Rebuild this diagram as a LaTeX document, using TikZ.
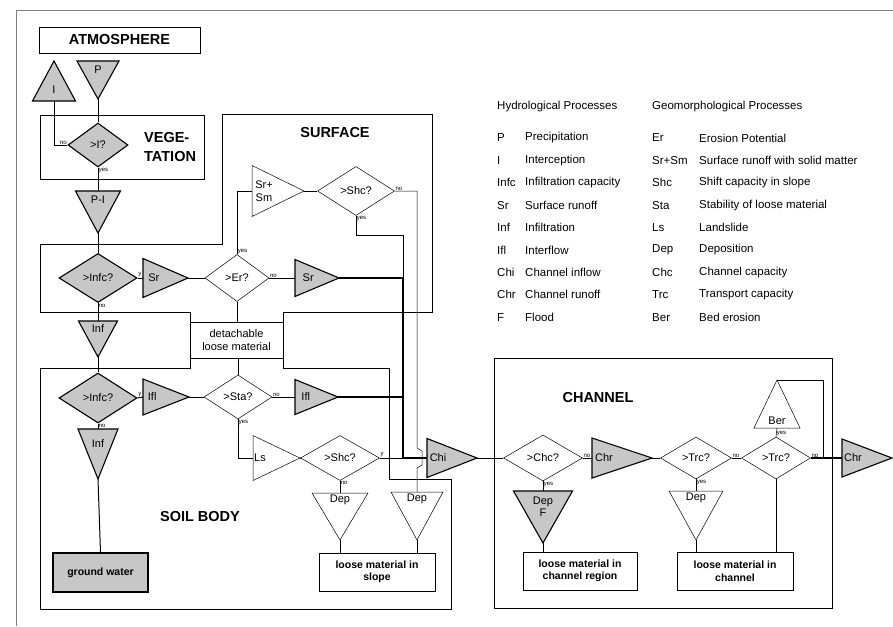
\documentclass[tikz,border=0pt]{standalone}
\usepackage{fontspec}
\setmainfont{Liberation Sans}
\usetikzlibrary{shapes.geometric,calc}

\begin{document}
\begin{tikzpicture}[x=1pt, y=-1pt,
	every node/.style={font=\fontsize{11}{12.5}\selectfont, inner sep=1pt},
	hyd/.style={draw, line width=1.1pt, fill=black!22},
	geo/.style={draw, line width=0.5pt, fill=white},
	ask/.style={diamond, inner sep=0pt},
	flow/.style={line width=1pt},
	trunk/.style={line width=1.7pt},
	link/.style={line width=0.5pt},
	region/.style={line width=0.9pt},
	title/.style={font=\fontsize{14.5}{19}\selectfont\bfseries},
	cue/.style={font=\fontsize{6}{7}\selectfont, inner sep=0.6pt},
	store/.style={draw, line width=0.6pt, align=center, font=\fontsize{10.5}{12.5}\selectfont\bfseries}]
	\useasboundingbox (0,0) rectangle (893,626);
	\draw[gray, line width=0.6pt] (16,626) -- (16,10) -- (893,10);

	% regions
	\draw[region] (40,244) -- (222,244) -- (222,114) -- (432,114) -- (432,312) -- (283,312) -- (283,322) -- (190,322) -- (190,312) -- (40,312) -- cycle;
	\draw[region] (40,368) -- (190,368) -- (190,358) -- (283,358) -- (283,368) -- (389,368) -- (389,479) -- (451,479) -- (451,609) -- (40,609) -- cycle;
	\draw[region] (494,358) rectangle (832,608);
	\node[draw, region, title, minimum width=161pt, minimum height=26pt] (atmo) at (119.5,40) {ATMOSPHERE};
	\node[draw, region, minimum width=164pt, minimum height=64pt] (veg) at (122,147) {};
	\node[title, align=left, anchor=west] (vegT) at (143,147) {VEGE-\\TATION};
	\node[title] (surfT) at (335,133) {SURFACE};
	\node[title] (soilT) at (200,517) {SOIL BODY};
	\node[title] (chanT) at (598,398) {CHANNEL};
	\node[draw, region, align=center, minimum width=93pt, minimum height=36pt] (det) at (236.5,340) {detachable\\loose material};

	% stores
	\node[hyd, minimum width=95pt, minimum height=39pt, font=\fontsize{10.5}{12}\selectfont\bfseries] (gw) at (100.5,572.5) {ground water};
	\node[store, minimum width=116pt, minimum height=38pt] (slope) at (377,572) {loose material in\\slope};
	\node[store, minimum width=114pt, minimum height=38pt] (cregion) at (580,571) {loose material in\\channel region};
	\node[store, minimum width=116pt, minimum height=38pt] (cbed) at (735,571) {loose material in\\channel};

	% decisions
	\node[ask, hyd, minimum width=60pt, minimum height=44pt] (dI) at (98,145) {>I?};
	\node[ask, hyd, minimum width=78pt, minimum height=49pt] (dInfcS) at (98,278) {>Infc?};
	\node[ask, geo, minimum width=64pt, minimum height=47pt] (dEr) at (237,278) {>Er?};
	\node[ask, geo, minimum width=77pt, minimum height=49pt] (dShcS) at (356,191) {>Shc?};
	\node[ask, hyd, minimum width=78pt, minimum height=50pt] (dInfcB) at (98,398) {>Infc?};
	\node[ask, geo, minimum width=68pt, minimum height=44pt] (dSta) at (238,397) {>Sta?};
	\node[ask, geo, minimum width=79pt, minimum height=45pt] (dShcB) at (340,458) {>Shc?};
	\node[ask, geo, minimum width=79pt, minimum height=46pt] (dChc) at (543,458) {>Chc?};
	\node[ask, geo, minimum width=71pt, minimum height=42pt] (dTrcA) at (696,458) {>Trc?};
	\node[ask, geo, minimum width=69pt, minimum height=42pt] (dTrcB) at (776,458) {>Trc?};

	% processes: name/apex/base/half base/style/label place/label
	\foreach \n/\ax/\ay/\bx/\by/\hw/\sty/\f/\txt in {
		P/98/99/98/61/21/hyd/0.24/P, I/54/61/54/101/21.5/hyd/0.27/I,
		PI/98/233/98/191/22.5/hyd/0.2/P-I, SrA/188/278/143/278/19.5/hyd/0.24/Sr,
		SrB/339/278/295/278/18.5/hyd/0.3/Sr, InfS/98/357/98/321/19.5/hyd/0.2/Inf,
		IflA/189/397/143/397/18/hyd/0.2/Ifl, IflB/338/397/295/397/17.5/hyd/0.25/Ifl,
		InfB/98/479/98/429/20/hyd/0.3/Inf, Chi/477/458/427/458/19.5/hyd/0.22/Chi,
		ChrA/652/458/592/458/20/hyd/0.2/Chr, ChrB/892/458/842/458/19/hyd/0.22/Chr,
		DepF/543/543/543/491/29.5/hyd/0.3/{Dep\\F}, SrSm/304/191/252/191/25.5/geo/0.23/{Sr+\\Sm},
		Ls/300/458/253/458/22.5/geo/0.15/Ls, DepL/340/540/340/493/28/geo/0.15/Dep,
		DepR/417/540/417/492/26/geo/0.15/Dep, DepC/696/540/696/491/27/geo/0.15/Dep,
		Ber/777/380/777/428/23/geo/0.15/Ber} {
		\coordinate (\n-a) at (\ax,\ay);
		\coordinate (\n-b) at (\bx,\by);
		\draw[\sty] (\n-a) -- ($(\n-b)!\hw pt!90:(\n-a)$) -- ($(\n-b)!\hw pt!-90:(\n-a)$) -- cycle;
		\node[align=center] (\n-t) at ($(\n-b)!\f!(\n-a)$) {\txt};
	}

	% hydrological path
	\draw[flow] (P-a) -- (dI.north);
	\draw[flow] (dI.west) -| (I-b);
	\draw[flow] (dI.south) -- (PI-b);
	\draw[flow] (PI-a) -- (dInfcS.north);
	\draw[flow] (dInfcS.east) -- (SrA-b);
	\draw[flow] (SrA-a) -- (dEr.west);
	\draw[flow] (dEr.east) -- (SrB-b);
	\draw[flow] (dInfcS.south) -- (InfS-b);
	\draw[flow] (InfS-a) -- (dInfcB.north);
	\draw[flow] (dInfcB.east) -- (IflA-b);
	\draw[flow] (IflA-a) -- (dSta.west);
	\draw[flow] (dSta.east) -- (IflB-b);
	\draw[flow] (dInfcB.south) -- (InfB-b);
	\draw[flow] (InfB-a) -- (gw.north);

	% material path
	\draw[link] (dEr.north) |- (SrSm-b);
	\draw[link] (SrSm-a) -- (dShcS.west);
	\draw[link] (dEr.south) -- (dEr.south |- det.north);
	\draw[link] (det.south -| dSta.north) -- (dSta.north);
	\draw[link] (dSta.south) |- (Ls-b);
	\draw[link] (Ls-a) -- (dShcB.west);
	\draw[link] (dShcB.south) -- (DepL-b);
	\draw[link] (DepL-a) -- (DepL-a |- slope.north);
	\draw[link] (DepR-a) -- (DepR-a |- slope.north);

	% collector to channel
	\coordinate (jTop) at (403,235);
	\coordinate (jSr) at (403,278);
	\coordinate (jIfl) at (403,397);
	\coordinate (jChi) at (403,458);
	\coordinate (hop) at (417,458);
	\draw[link] (dShcS.south) |- (jTop) -- (jSr);
	\draw[trunk] (SrB-a) -- (jSr) -- (jChi) -- (Chi-b);
	\draw[trunk] (IflB-a) -- (jIfl);
	\draw[flow] (dShcB.east) -- (jChi);
	\draw[link] (dShcS.east) -| ($(hop)+(0,-10)$) -- ++(5,3) -- ++(0,14) -- ++(-5,3) -- (DepR-b);

	% channel
	\coordinate (jBer) at (823,458);
	\draw[flow] (Chi-a) -- (dChc.west);
	\draw[flow] (dChc.east) -- (ChrA-b);
	\draw[flow] (ChrA-a) -- (dTrcA.west);
	\draw[flow] (dTrcA.east) -- (dTrcB.west);
	\draw[trunk] (dTrcB.east) -- (ChrB-b);
	\draw[link] (dTrcB.north) -- (Ber-b);
	\draw[link] (Ber-a) -| (jBer);
	\draw[link] (dChc.south) -- (DepF-b);
	\draw[link] (DepF-a) -- (DepF-a |- cregion.north);
	\draw[link] (dTrcA.south) -- (DepC-b);
	\draw[link] (DepC-a) -- (DepC-a |- cbed.north);
	\draw[link] (dTrcB.south) -- (dTrcB.south |- cbed.north);

	% yes / no
	\node[cue, anchor=south east] (cI1) at (dI.west) {no};
	\node[cue, anchor=north west] (cI2) at (dI.south) {yes};
	\node[cue, anchor=south west] (cInfcS1) at (dInfcS.east) {y};
	\node[cue, anchor=north west] (cInfcS2) at (dInfcS.south) {no};
	\node[cue, anchor=south west] (cEr1) at (dEr.north) {yes};
	\node[cue, anchor=south west] (cEr2) at (dEr.east) {no};
	\node[cue, anchor=south west] (cShcS1) at (dShcS.east) {no};
	\node[cue, anchor=north west] (cShcS2) at (dShcS.south) {yes};
	\node[cue, anchor=south west] (cInfcB1) at (dInfcB.east) {y};
	\node[cue, anchor=north west] (cInfcB2) at (dInfcB.south) {no};
	\node[cue, anchor=south west] (cSta1) at (dSta.east) {no};
	\node[cue, anchor=north west] (cSta2) at (dSta.south) {yes};
	\node[cue, anchor=south west] (cShcB1) at (dShcB.east) {y};
	\node[cue, anchor=north west] (cShcB2) at (dShcB.south) {no};
	\node[cue, anchor=south west] (cChc1) at (dChc.east) {no};
	\node[cue, anchor=north west] (cChc2) at (dChc.south) {yes};
	\node[cue, anchor=south west] (cTrcA1) at (dTrcA.east) {no};
	\node[cue, anchor=north west] (cTrcA2) at (dTrcA.south) {yes};
	\node[cue, anchor=south west] (cTrcB1) at (dTrcB.east) {no};
	\node[cue, anchor=south west] (cTrcB2) at (dTrcB.north) {yes};

	% legend
	\node[anchor=west, inner sep=0pt, font=\fontsize{11.5}{13}\selectfont] (hydH) at (497,107) {Hydrological Processes};
	\node[anchor=west, inner sep=0pt, font=\fontsize{11.5}{13}\selectfont] (geoH) at (652,107) {Geomorphological Processes};
	\foreach \hs/\hd/\gs/\gd [count=\i from 0] in {P/Precipitation/Er/Erosion Potential,
		I/Interception/Sr+Sm/Surface runoff with solid matter, Infc/Infiltration capacity/Shc/Shift capacity in slope,
		Sr/Surface runoff/Sta/Stability of loose material, Inf/Infiltration/Ls/Landslide,
		Ifl/Interflow/Dep/Deposition, Chi/Channel inflow/Chc/Channel capacity,
		Chr/Channel runoff/Trc/Transport capacity, F/Flood/Ber/Bed erosion} {
		\node[anchor=west, inner sep=0pt, font=\fontsize{11.5}{13}\selectfont] (hs\i) at (497,138+22.4*\i) {\hs};
		\node[anchor=west, inner sep=0pt, font=\fontsize{11.5}{13}\selectfont] (hd\i) at (525,138+22.4*\i) {\hd};
		\node[anchor=west, inner sep=0pt, font=\fontsize{11.5}{13}\selectfont] (gs\i) at (652,138+22.4*\i) {\gs};
		\node[anchor=west, inner sep=0pt, font=\fontsize{11.5}{13}\selectfont] (gd\i) at (699,138+22.4*\i) {\gd};
	}
\end{tikzpicture}
\end{document}
